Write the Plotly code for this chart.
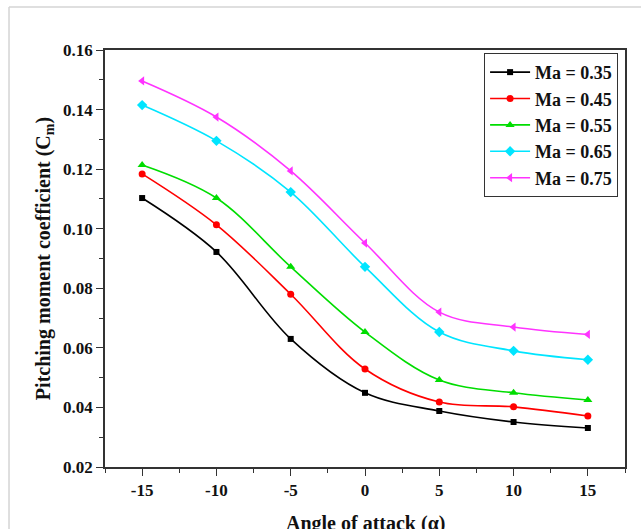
import plotly.graph_objects as go

angles = [-15, -10, -5, 0, 5, 10, 15]
ma_035 = [0.1103, 0.0922, 0.0630, 0.0449, 0.0388, 0.0351, 0.0331]
ma_045 = [0.1184, 0.1013, 0.0780, 0.0529, 0.0418, 0.0402, 0.0371]
ma_055 = [0.1214, 0.1103, 0.0872, 0.0653, 0.0492, 0.0449, 0.0425]
ma_065 = [0.1415, 0.1295, 0.1123, 0.0872, 0.0653, 0.0590, 0.0560]
ma_075 = [0.1496, 0.1375, 0.1194, 0.0952, 0.0720, 0.0670, 0.0645]

names = ["Ma = 0.35", "Ma = 0.45", "Ma = 0.55", "Ma = 0.65", "Ma = 0.75"]
series = [ma_035, ma_045, ma_055, ma_065, ma_075]
colors = ["#000000", "#ff0000", "#00dd00", "#00e5ff", "#ff33ff"]
symbols = ["square", "circle", "triangle-up", "diamond", "triangle-left"]
sizes = [6, 7, 8, 8, 8]
y_ticks = [0.02, 0.04, 0.06, 0.08, 0.10, 0.12, 0.14, 0.16]
x_title = "Angle of attack (α)"
y_title = "Pitching moment coefficient (C<sub>m</sub>)"

FONT = "Liberation Serif"

fig = go.Figure()
for nm, ys, c, s, sz in zip(names, series, colors, symbols, sizes):
    fig.add_trace(go.Scatter(
        x=angles, y=ys, name="<b>%s</b>" % nm, legendgroup=nm,
        mode="lines+markers",
        line=dict(color=c, width=1.6, shape="spline", smoothing=1.0),
        marker=dict(symbol=s, size=sz, color=c),
    ))

axis_common = dict(
    showline=True, linecolor="#333333", linewidth=1.6, mirror=True,
    ticks="outside", ticklen=7, tickwidth=1.4, tickcolor="#333333",
    showgrid=False, zeroline=False, automargin=False,
    tickfont=dict(family=FONT, size=17, color="#111111"),
)

fig.update_xaxes(
    range=[-17.5, 17.5], tickvals=angles, ticktext=["<b>%d</b>" % a for a in angles],
    minor=dict(dtick=2.5, tick0=-17.5, ticks="outside", ticklen=4, tickwidth=1.2, tickcolor="#333333"),
    **axis_common,
)
fig.update_yaxes(
    range=[0.02, 0.16], tickvals=y_ticks,
    ticktext=["<b>%.2f</b>" % v for v in y_ticks],
    minor=dict(dtick=0.01, tick0=0.02, ticks="outside", ticklen=4, tickwidth=1.2, tickcolor="#333333"),
    title=dict(text="<b>%s</b>" % y_title, font=dict(family=FONT, size=20, color="#111111"), standoff=7),
    **axis_common,
)

frame = dict(color="#d4d4d4", width=1.5)
fig.update_layout(
    width=641, height=529,
    margin=dict(l=105, r=16, t=50, b=62),
    paper_bgcolor="white", plot_bgcolor="white",
    showlegend=True,
    legend=dict(
        x=0.729, y=0.993, xanchor="left", yanchor="top",
        bordercolor="#333333", borderwidth=1, bgcolor="white",
        font=dict(family=FONT, size=18, color="#111111"),
        tracegroupgap=1, traceorder="normal",
        itemwidth=40,
    ),
    annotations=[dict(
        text="<b>%s</b>" % x_title, xref="paper", yref="paper",
        x=0.5, y=-0.104, xanchor="center", yanchor="top", showarrow=False,
        font=dict(family=FONT, size=20, color="#111111"),
    )],
    shapes=[
        dict(type="line", xref="paper", yref="paper", x0=-0.1846, y0=-1.0, x1=-0.1846, y1=1.103,
             line=frame, layer="below"),
        dict(type="line", xref="paper", yref="paper", x0=-0.1846, y0=1.103, x1=2.0, y1=1.103,
             line=frame, layer="below"),
    ],
)

fig.write_html("out.html", config={"displayModeBar": False},
               post_script="document.body.style.margin='0';document.body.style.overflow='hidden';")
